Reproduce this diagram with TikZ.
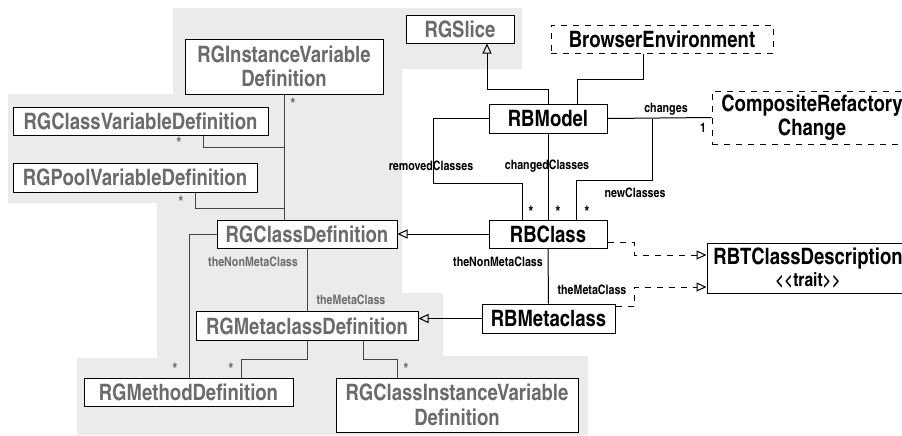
\documentclass[tikz,border=0pt]{standalone}
\usepackage{fontspec}
\newfontfamily\cnfont[Ligatures={TeXOff,NoCommon}]{texgyreheroscn-bold.otf}
\usetikzlibrary{arrows.meta}
\definecolor{bggray}{HTML}{EBEBEB}
\definecolor{rggray}{HTML}{6B6B6B}
\definecolor{rgline}{HTML}{454545}
\tikzset{
  rg/.style={draw=black, fill=white, text=rggray, inner sep=0pt, align=center,
    font=\cnfont\fontsize{11.3}{12.2}\selectfont},
  rb/.style={rg, text=black},
  env/.style={rb, dashed},
  lbl/.style={font=\cnfont\fontsize{6.5}{7}\selectfont, inner sep=0pt},
  glbl/.style={lbl, text=rggray},
  mult/.style={lbl, font=\cnfont\fontsize{8}{8}\selectfont},
  gmult/.style={mult, text=rggray},
  gen/.style={-{Triangle[open, length=5pt, width=4.5pt]}},
  real/.style={dashed, -{Triangle[open, length=5pt, width=4.5pt]}}
}
\begin{document}
\begin{tikzpicture}[x=0.5pt, y=-0.5pt, line width=0.5pt]
\useasboundingbox (0,0) rectangle (902,435);
\fill[bggray] (173,8)--(522,8)--(522,69)--(402,69)--(402,293)--(443,293)--(443,356)
--(588,356)--(588,435)--(77,435)--(77,358)--(157,358)--(157,203)--(8,203)--(8,94)--(173,94)--cycle;

\node[rg, minimum width=54pt, minimum height=14pt] (slice) at (460,29) {RGSlice};
\node[rg, minimum width=99pt, minimum height=27.5pt] (iv) at (284,66.5) {RGInstanceVariable\\Definition};
\node[rg, minimum width=127.5pt, minimum height=14pt] (cv) at (140.5,121) {RGClassVariableDefinition};
\node[rg, minimum width=122pt, minimum height=14.5pt] (pv) at (135,177.5) {RGPoolVariableDefinition};
\node[rg, minimum width=90pt, minimum height=14pt] (cd) at (307,234) {RGClassDefinition};
\node[rg, minimum width=111pt, minimum height=14.5pt] (md) at (307,326) {RGMetaclassDefinition};
\node[rg, minimum width=104.5pt, minimum height=14pt] (meth) at (188.5,392) {RGMethodDefinition};
\node[rg, minimum width=121pt, minimum height=27pt] (civ) at (457,405) {RGClassInstanceVariable\\Definition};

\node[rb, minimum width=59pt, minimum height=14.5pt] (model) at (548,118.5) {RBModel};
\node[env, minimum width=111pt, minimum height=14pt] (browser) at (662,39) {BrowserEnvironment};
\node[env, minimum width=100pt, minimum height=26.5pt] (change) at (812,117.5) {CompositeRefactory\\Change};
\node[rb, minimum width=59pt, minimum height=14pt] (class) at (548,234) {RBClass};
\node[rb, minimum width=66.5pt, minimum height=14.5pt] (meta) at (548.5,318.5) {RBMetaclass};
\node[rb, minimum width=101pt, minimum height=25pt] (trait) at (808,268)
  {RBTClassDescription\\[-1.5pt]{\fontsize{9.5}{9.5}\selectfont \symbol{60}\symbol{60}trait\symbol{62}\symbol{62}}};

\begin{scope}[draw=rgline]
\draw (iv.south) -- (iv.south |- cd.north);
\draw (203,0 |- cv.south) |- (iv.south |- 0,147);
\draw (195,0 |- pv.south) |- (iv.south |- 0,208);
\draw (cd.west) -| (189,0 |- meth.north);
\draw (cd.south) -- (md.north);
\draw (md.south) -- (md.south |- 0,359) -| (241,0 |- meth.north);
\draw (363,0 |- md.south) -- (363,359) -| (397,0 |- civ.north);
\end{scope}
\node[gmult] (s1) at (293,104) {*};
\node[gmult] (s2) at (179,143) {*};
\node[gmult] (s3) at (181,202) {*};
\node[gmult] (s4) at (175,369) {*};
\node[gmult] (s5) at (231,369) {*};
\node[gmult] (s6) at (406,369) {*};
\node[glbl] (nonmeta) at (253,262) {theNonMetaClass};
\node[glbl] (metacl) at (351,300) {theMetaClass};

\draw[gen] (model.north) |- (487,89) -- (487,0 |- slice.south);
\draw (577,0 |- model.north) |- (643,79) -- (643,0 |- browser.south);
\draw (model.east) -- (change.west);
\draw (652,0 |- model.east) |- (576,180) -- (576,0 |- class.north);
\draw (model.south) -- (class.north);
\draw (model.west) -| (433,183) -| (522,0 |- class.north);
\draw (class.south) -- (meta.north);
\draw[gen] (class.west) -- (cd.east);
\draw[gen] (meta.west) -- (md.east |- meta.west);
\draw[real] (class.east |- 0,242) -| (634,255) -- (trait.west |- 0,255);
\draw[real] (meta.east |- 0,306) -| (634,287) -- (trait.west |- 0,287);

\node[lbl] (changes) at (666,109) {changes};
\node[lbl] (one) at (703,128) {1};
\node[lbl] (removed) at (431,166) {removedClasses};
\node[lbl] (changed) at (547,166) {changedClasses};
\node[lbl] (new) at (635,193) {newClasses};
\node[mult] (s7) at (531,212) {*};
\node[mult] (s8) at (558,212) {*};
\node[mult] (s9) at (587,212) {*};
\node[lbl] (rbnonmeta) at (498,262) {theNonMetaClass};
\node[lbl] (rbmeta) at (592,290) {theMetaClass};
\end{tikzpicture}
\end{document}
